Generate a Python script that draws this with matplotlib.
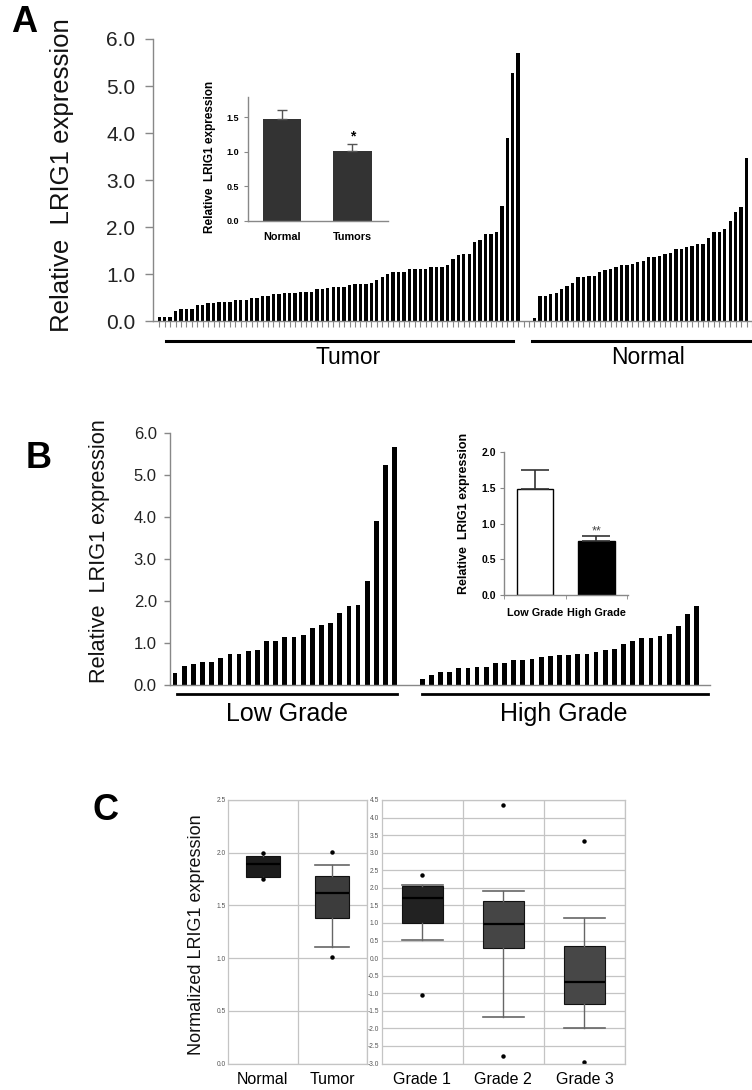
import numpy as np
import matplotlib
matplotlib.use("Agg")
import matplotlib.pyplot as plt
from matplotlib.transforms import blended_transform_factory

# --- panel A : qPCR per sample ---
tumor_vals = [0.10, 0.10, 0.10, 0.21, 0.27, 0.27, 0.27, 0.35, 0.35, 0.39, 0.39,
              0.42, 0.42, 0.42, 0.46, 0.46, 0.46, 0.50, 0.50, 0.53, 0.53, 0.57,
              0.57, 0.60, 0.60, 0.60, 0.63, 0.63, 0.63, 0.68, 0.68, 0.70,
              0.72, 0.72, 0.72, 0.77, 0.79, 0.79, 0.79, 0.82, 0.87, 0.95, 1.00,
              1.05, 1.05, 1.05, 1.12, 1.12, 1.12, 1.12, 1.15, 1.15, 1.15, 1.19,
              1.33, 1.40, 1.43, 1.43, 1.69, 1.73, 1.86, 1.86, 1.90, 2.44, 3.90,
              5.27, 5.70]
normal_vals = [0.08, 0.54, 0.54, 0.58, 0.61, 0.68, 0.75, 0.82, 0.94, 0.94, 0.97,
               0.97, 1.04, 1.08, 1.11, 1.15, 1.19, 1.19, 1.22, 1.25, 1.29, 1.36,
               1.36, 1.39, 1.42, 1.46, 1.53, 1.53, 1.57, 1.61, 1.64, 1.64, 1.78,
               1.90, 1.90, 1.97, 2.14, 2.33, 2.43, 3.47]
gap_a = 2

inset_a_labels = ["Normal", "Tumors"]
inset_a_means = [1.48, 1.01]
inset_a_err = [0.13, 0.11]

# --- panel B : low vs high grade ---
low_grade_vals = [0.29, 0.46, 0.49, 0.56, 0.56, 0.65, 0.74, 0.74, 0.81, 0.83,
                  1.06, 1.06, 1.15, 1.15, 1.18, 1.35, 1.44, 1.47, 1.72, 1.88,
                  1.91, 2.49, 3.90, 5.25, 5.68]
high_grade_vals = [0.14, 0.25, 0.30, 0.30, 0.40, 0.40, 0.44, 0.44, 0.53, 0.53,
                   0.59, 0.59, 0.63, 0.67, 0.69, 0.72, 0.72, 0.74, 0.74, 0.78,
                   0.84, 0.87, 0.97, 1.06, 1.13, 1.13, 1.16, 1.22, 1.41, 1.69,
                   1.88]
gap_b = 2

inset_b_labels = ["Low Grade", "High Grade"]
inset_b_means = [1.48, 0.75]
inset_b_err = [0.27, 0.07]

# --- panel C : boxplots ---
c1_labels = ["Normal", "Tumor"]
c1_q1 = [1.77, 1.38]
c1_med = [1.89, 1.615]
c1_q3 = [1.97, 1.78]
c1_lo = [1.755, 1.11]
c1_hi = [1.99, 1.885]
c1_fliers = [[1.995, 1.755], [2.01, 1.01]]

c2_labels = ["Grade 1", "Grade 2", "Grade 3"]
c2_q1 = [1.01, 0.29, -1.30]
c2_med = [1.72, 0.96, -0.68]
c2_q3 = [2.05, 1.62, 0.35]
c2_lo = [0.52, -1.68, -2.00]
c2_hi = [2.09, 1.91, 1.14]
c2_fliers = [[2.37, -1.04], [4.35, -2.80], [3.34, -2.95]]

W, H = 752, 1090
plt.rcParams["font.family"] = ["Liberation Sans", "DejaVu Sans"]
fig = plt.figure(figsize=(W / 100, H / 100), dpi=100)


def box(x0, y0, x1, y1):
    return [x0 / W, 1 - y1 / H, (x1 - x0) / W, (y1 - y0) / H]


def fy(y):
    return 1 - y / H


def style_axis(ax, color="#888888"):
    for s in ["top", "right"]:
        ax.spines[s].set_visible(False)
    for s in ["left", "bottom"]:
        ax.spines[s].set_color(color)
        ax.spines[s].set_linewidth(1.0)


# ================= A =================
axA = fig.add_axes(box(152.7, 39, 752, 321.3))
xt = np.arange(len(tumor_vals))
xn = np.arange(len(normal_vals)) + len(tumor_vals) + gap_a
axA.bar(xt, tumor_vals, width=0.62, color="black")
axA.bar(xn, normal_vals, width=0.62, color="black")
axA.set_xlim(-1.2, xn[-1] + 0.75)
axA.set_ylim(0, 6)
style_axis(axA)
axA.set_yticks(np.arange(0, 6.01, 1.0))
axA.set_yticklabels([f"{v:.1f}" for v in np.arange(0, 6.01, 1.0)], fontsize=15, color="#222222")
axA.set_xticks(np.arange(0, xn[-1] + 2))
axA.set_xticklabels([])
axA.tick_params(axis="x", length=4, width=0.8, color="#888888")
axA.tick_params(axis="y", length=5.5, width=1.0, color="#888888", pad=7)
fig.text(62.5 / W, fy(175), "Relative  LRIG1 expression", rotation=90,
         ha="center", va="center", fontsize=18.5, color="#111111")

tA = blended_transform_factory(axA.transData, fig.transFigure)
axA.plot([1.2, 65.0], [fy(340.5)] * 2, color="black", lw=2.2, transform=tA, clip_on=False)
axA.plot([68.5, xn[-1] + 2], [fy(340.5)] * 2, color="black", lw=2.2, transform=tA, clip_on=False)
axA.text(34.8, fy(357), "Tumor", transform=tA, ha="center", va="center", fontsize=16.5)
axA.text(89.9, fy(357), "Normal", transform=tA, ha="center", va="center", fontsize=16.5)

# inset A
axAi = fig.add_axes(box(247.6, 96.7, 387.5, 220.7))
axAi.bar(range(2), inset_a_means, width=0.55, color="#333333",
         yerr=[np.zeros(2), inset_a_err],
         error_kw=dict(ecolor="#555555", elinewidth=1.0, capsize=3.5, capthick=1.0))
axAi.set_xlim(-0.49, 1.5)
axAi.set_ylim(0, 1.8)
style_axis(axAi)
axAi.set_yticks([0, 0.5, 1.0, 1.5])
axAi.set_yticklabels(["0.0", "0.5", "1.0", "1.5"], fontsize=6.5, fontweight="bold")
axAi.set_xticks(range(2))
axAi.set_xticklabels(inset_a_labels, fontsize=7.8, fontweight="bold")
axAi.tick_params(axis="x", length=0, pad=8)
axAi.tick_params(axis="y", length=3, color="#888888", pad=3)
axAi.text(1, inset_a_means[1] + inset_a_err[1] + 0.1, "*", ha="center", va="center",
          fontsize=10, fontweight="bold")
fig.text(209.5 / W, fy(157), "Relative  LRIG1 expression", rotation=90,
         ha="center", va="center", fontsize=8.5, fontweight="bold")

# ================= B =================
axB = fig.add_axes(box(170, 433.3, 710, 685))
xl = np.arange(len(low_grade_vals))
xh = np.arange(len(high_grade_vals)) + len(low_grade_vals) + gap_b
axB.bar(xl, low_grade_vals, width=0.52, color="black")
axB.bar(xh, high_grade_vals, width=0.52, color="black")
axB.set_xlim(-0.55, xh[-1] + 1.45)
axB.set_ylim(0, 6)
style_axis(axB)
axB.set_xticks([])
axB.set_yticks(np.arange(0, 6.01, 1.0))
axB.set_yticklabels([f"{v:.1f}" for v in np.arange(0, 6.01, 1.0)], fontsize=12, color="#222222")
axB.tick_params(axis="y", length=4.5, width=1.0, color="#888888", pad=5)
fig.text(100 / W, fy(551), "Relative  LRIG1 expression", rotation=90,
         ha="center", va="center", fontsize=15.7, color="#111111")

tB = blended_transform_factory(axB.transData, fig.transFigure)
axB.plot([0.2, 24.3], [fy(694)] * 2, color="black", lw=2.0, transform=tB, clip_on=False)
axB.plot([27.0, 58.2], [fy(694)] * 2, color="black", lw=2.0, transform=tB, clip_on=False)
axB.text(12.2, fy(714), "Low Grade", transform=tB, ha="center", va="center", fontsize=18)
axB.text(42.5, fy(714), "High Grade", transform=tB, ha="center", va="center", fontsize=18)

# inset B
axBi = fig.add_axes(box(504.3, 452.3, 628.3, 595))
axBi.bar(range(2), inset_b_means, width=0.6, color=["white", "black"],
         edgecolor="black", linewidth=1.0,
         yerr=[np.zeros(2), inset_b_err],
         error_kw=dict(ecolor="#333333", elinewidth=1.2, capsize=10, capthick=1.2))
axBi.set_xlim(-0.5, 1.52)
axBi.set_ylim(0, 2.0)
style_axis(axBi)
axBi.set_yticks([0, 0.5, 1.0, 1.5, 2.0])
axBi.set_yticklabels(["0.0", "0.5", "1.0", "1.5", "2.0"], fontsize=7.5, fontweight="bold")
axBi.set_xticks(range(2))
axBi.set_xticklabels(inset_b_labels, fontsize=7.8, fontweight="bold")
axBi.set_xticks([-0.5, 0.5, 1.5], minor=True)
axBi.tick_params(axis="x", which="major", length=0, pad=9)
axBi.tick_params(axis="x", which="minor", length=3, color="#888888")
axBi.tick_params(axis="y", length=3, color="#888888", pad=3)
axBi.text(1, inset_b_means[1] + inset_b_err[1] + 0.07, "**", ha="center", va="center",
          fontsize=9, color="#444444")
fig.text(464.3 / W, fy(513), "Relative  LRIG1 expression", rotation=90,
         ha="center", va="center", fontsize=9, fontweight="bold")

# ================= C =================
def make_stats(q1, med, q3, lo, hi, fl):
    return [dict(q1=a, med=b, q3=c, whislo=d, whishi=e, fliers=f)
            for a, b, c, d, e, f in zip(q1, med, q3, lo, hi, fl)]


def draw_box(ax, stats, colors, ylim, step, capw):
    res = ax.bxp(stats, positions=range(len(stats)), widths=0.5, patch_artist=True,
                 showfliers=True,
                 boxprops=dict(edgecolor="#111111", linewidth=0.8),
                 medianprops=dict(color="black", linewidth=1.6),
                 whiskerprops=dict(color="#666666", linewidth=1.0),
                 capprops=dict(color="#666666", linewidth=1.2),
                 capwidths=capw,
                 flierprops=dict(marker="o", markersize=2.2, markerfacecolor="black",
                                 markeredgecolor="black"))
    for patch, c in zip(res["boxes"], colors):
        patch.set_facecolor(c)
    ax.set_xlim(-0.5, len(stats) - 0.5)
    ax.set_ylim(*ylim)
    ticks = np.arange(ylim[0], ylim[1] + 0.01, step)
    ax.set_yticks(ticks)
    ax.set_yticklabels([f"{t:.1f}" for t in ticks], fontsize=4.8, color="#555555")
    ax.tick_params(axis="y", length=0, pad=2)
    ax.set_xticks(np.arange(len(stats)) + 0.5, minor=True)
    ax.grid(axis="y", which="major", color="#c4c4c4", linewidth=0.9)
    ax.grid(axis="x", which="minor", color="#c4c4c4", linewidth=0.9)
    ax.tick_params(axis="x", which="minor", length=0)
    ax.set_axisbelow(True)
    for s in ax.spines.values():
        s.set_color("#c4c4c4")
        s.set_linewidth(0.9)


axC1 = fig.add_axes(box(228.3, 800, 366.7, 1063.5))
draw_box(axC1, make_stats(c1_q1, c1_med, c1_q3, c1_lo, c1_hi, c1_fliers),
         ["#1c1c1c", "#3c3c3c"], (0, 2.5), 0.5, [0.0, 0.5])
axC1.set_xticks(range(2))
axC1.set_xticklabels(c1_labels, fontsize=11.5)
axC1.tick_params(axis="x", which="major", length=0, pad=6)

axC2 = fig.add_axes(box(381.7, 800, 625, 1063.5))
draw_box(axC2, make_stats(c2_q1, c2_med, c2_q3, c2_lo, c2_hi, c2_fliers),
         ["#222222", "#454545", "#474747"], (-3.0, 4.5), 0.5, 0.5)
axC2.set_xticks(range(3))
axC2.set_xticklabels(c2_labels, fontsize=11.5)
axC2.tick_params(axis="x", which="major", length=0, pad=6)

fig.text(196.7 / W, fy(935), "Normalized LRIG1 expression", rotation=90,
         ha="center", va="center", fontsize=13, color="#111111")

# panel letters
for lab, x, y in [("A", 24, 23), ("B", 39, 458), ("C", 106, 810)]:
    fig.text(x / W, fy(y), lab, ha="center", va="center", fontsize=26, fontweight="bold")

fig.savefig("out.png", dpi=100)
